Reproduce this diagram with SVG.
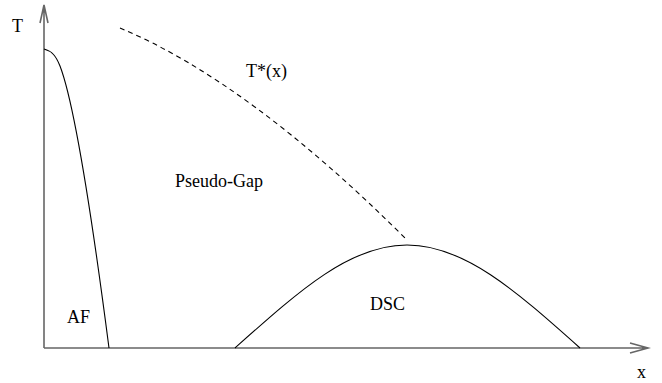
<svg xmlns="http://www.w3.org/2000/svg" width="662" height="383" viewBox="0 0 662 383">
<style>
.axis{stroke:#666;stroke-width:1.6;fill:none}
.curve{stroke:#000;stroke-width:1.1;fill:none}
.dash{stroke:#000;stroke-width:1.1;fill:none;stroke-dasharray:5 4}
.lbl{font-family:'Liberation Serif',serif;font-size:18px;fill:#000}
</style>
<rect width="662" height="383" fill="#fff"/>
<g id="connectors">
<path class="axis" d="M44,348 V5 M40,23 L44,5 L48,23"/>
<path class="axis" d="M44,348 H648 M630,343 L648,348 L630,353"/>
<path id="af-line" class="curve" d="M44,49 C52,51 56,56 60,66 C75,105 95,240 109,348"/>
<path id="tstar-line" class="dash" d="M120,28 Q249,82 407,240"/>
<path id="dsc-line" class="curve" d="M235,348 C300,290 350,245 407,245 C464,245 515,290 580,348"/>
</g>
<g id="label-T"><text class="lbl" font-family="Liberation Serif" x="12" y="32">T</text></g>
<g id="label-x"><text class="lbl" font-family="Liberation Serif" x="637" y="378">x</text></g>
<g id="label-Tstar"><text class="lbl" font-family="Liberation Serif" x="246" y="77">T*(x)</text></g>
<g id="label-PG"><text class="lbl" font-family="Liberation Serif" x="175" y="187">Pseudo-Gap</text></g>
<g id="label-DSC"><text class="lbl" font-family="Liberation Serif" x="370" y="310">DSC</text></g>
<g id="label-AF"><text class="lbl" font-family="Liberation Serif" x="67" y="323">AF</text></g>
</svg>
